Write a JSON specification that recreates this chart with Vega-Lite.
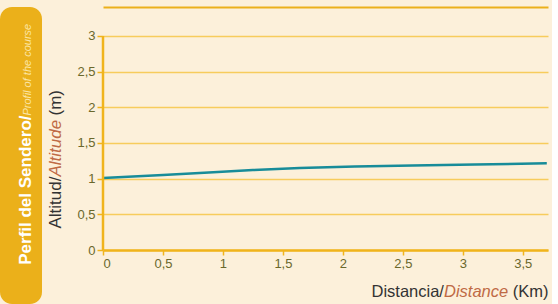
{
  "$schema": "https://vega.github.io/schema/vega-lite/v6.json",
  "background": "#FCF0DA",
  "padding": {"left": 0, "top": 7, "right": 0, "bottom": 0},
  "spacing": 4,
  "config": {
    "view": {"stroke": null},
    "font": "Liberation Sans, sans-serif",
    "axis": {
      "labelFont": "Liberation Sans, sans-serif",
      "titleFont": "Liberation Sans, sans-serif",
      "labelFontSize": 13,
      "labelColor": "#6A682C",
      "titleFontWeight": "normal",
      "titleFontSize": 17,
      "titleColor": "#333333"
    }
  },
  "hconcat": [
    {
      "width": 42,
      "height": 297,
      "view": {"fill": "#EBB01A", "cornerRadius": 12, "stroke": null},
      "data": {"values": [{"t1": "Perfil del Sendero/", "t2": "Profil of the course"}]},
      "layer": [
        {
          "mark": {"type": "text", "angle": 270, "align": "right", "baseline": "alphabetic", "font": "Liberation Sans", "fontSize": 17, "fontWeight": "bold", "color": "#FFFFFF", "dx": 40, "dy": 10},
          "encoding": {"text": {"field": "t1"}}
        },
        {
          "mark": {"type": "text", "angle": 270, "align": "left", "baseline": "alphabetic", "font": "Liberation Sans", "fontSize": 11, "fontStyle": "italic", "color": "#FCE6A6", "dx": 40, "dy": 10},
          "encoding": {"text": {"field": "t2"}}
        }
      ]
    },
    {
      "width": 445,
      "height": 243,
      "view": {"stroke": null},
      "data": {"values": [
        {"km": 0, "alt": 1.01},
        {"km": 0.5, "alt": 1.05},
        {"km": 0.92, "alt": 1.09},
        {"km": 1.25, "alt": 1.12},
        {"km": 1.64, "alt": 1.15},
        {"km": 2.1, "alt": 1.17},
        {"km": 2.58, "alt": 1.185},
        {"km": 3.1, "alt": 1.2},
        {"km": 3.7, "alt": 1.215}
      ]},
      "layer": [
        {
          "mark": {"type": "line", "color": "#188C99", "strokeWidth": 2.5},
          "encoding": {
            "x": {
              "field": "km", "type": "quantitative",
              "scale": {"domain": [0, 3.71], "nice": false},
              "axis": {
                "orient": "bottom",
                "values": [0, 0.5, 1, 1.5, 2, 2.5, 3, 3.5],
                "format": "~g",
                "labelExpr": "replace(datum.label, '.', ',')",
                "grid": false,
                "domainColor": "#F0B41C", "domainWidth": 2.5,
                "tickColor": "#F0B41C", "tickWidth": 1.5, "tickSize": 5,
                "labelPadding": 2,
                "title": "Distancia/",
                "titleFontSize": 16.5,
                "titleX": 268, "titleY": 46, "titleAlign": "left", "titleBaseline": "alphabetic"
              }
            },
            "y": {
              "field": "alt", "type": "quantitative",
              "scale": {"domain": [0, 3.4065], "nice": false},
              "axis": {
                "orient": "left",
                "values": [0, 0.5, 1, 1.5, 2, 2.5, 3],
                "format": "~g",
                "labelExpr": "replace(datum.label, '.', ',')",
                "grid": true, "gridColor": "#F7CC5C", "gridWidth": 1.5,
                "domain": false,
                "tickColor": "#F0B41C", "tickWidth": 1.5, "tickSize": 6,
                "labelPadding": 2,
                "title": "Altitud/",
                "titleAngle": 270, "titleX": -43, "titleY": 221, "titleAlign": "left", "titleBaseline": "alphabetic"
              }
            }
          }
        },
        {
          "mark": {"type": "line", "strokeOpacity": 0},
          "encoding": {
            "x": {
              "field": "km", "type": "quantitative",
              "axis": {
                "orient": "bottom", "labels": false, "ticks": false, "domain": false, "grid": false,
                "title": "Distance", "titleFontStyle": "italic", "titleColor": "#BF6A45", "titleFontSize": 16.5,
                "titleX": 340.5, "titleY": 46, "titleAlign": "left", "titleBaseline": "alphabetic"
              }
            },
            "y": {
              "field": "alt", "type": "quantitative",
              "axis": {
                "orient": "left", "labels": false, "ticks": false, "domain": false, "grid": false,
                "title": "Altitude", "titleFontStyle": "italic", "titleColor": "#BF6A45",
                "titleAngle": 270, "titleX": -43, "titleY": 169, "titleAlign": "left", "titleBaseline": "alphabetic"
              }
            }
          }
        },
        {
          "mark": {"type": "line", "strokeOpacity": 0},
          "encoding": {
            "x": {
              "field": "km", "type": "quantitative",
              "axis": {
                "orient": "bottom", "labels": false, "ticks": false, "domain": false, "grid": false,
                "title": "(Km)", "titleFontSize": 16.5,
                "titleX": 445, "titleY": 46, "titleAlign": "right", "titleBaseline": "alphabetic"
              }
            },
            "y": {
              "field": "alt", "type": "quantitative",
              "axis": {
                "orient": "left", "labels": false, "ticks": false, "domain": false, "grid": false,
                "title": "(m)",
                "titleAngle": 270, "titleX": -43, "titleY": 108, "titleAlign": "left", "titleBaseline": "alphabetic"
              }
            }
          }
        },
        {
          "mark": {"type": "line", "strokeOpacity": 0},
          "encoding": {
            "x": {
              "field": "km", "type": "quantitative",
              "axis": {
                "orient": "top", "offset": 0, "labels": false, "ticks": false, "grid": false,
                "domainColor": "#EBB01A", "domainWidth": 2, "title": null
              }
            },
            "y": {"field": "alt", "type": "quantitative", "axis": null}
          }
        },
        {
          "data": {"values": [{}]},
          "mark": {"type": "rule", "color": "#F0B41C", "strokeWidth": 2.5},
          "encoding": {
            "x": {"datum": 0, "type": "quantitative", "axis": null},
            "y": {"datum": 0, "type": "quantitative", "axis": null},
            "y2": {"datum": 3}
          }
        }
      ],
      "resolve": {"axis": {"x": "independent", "y": "independent"}}
    }
  ]
}
